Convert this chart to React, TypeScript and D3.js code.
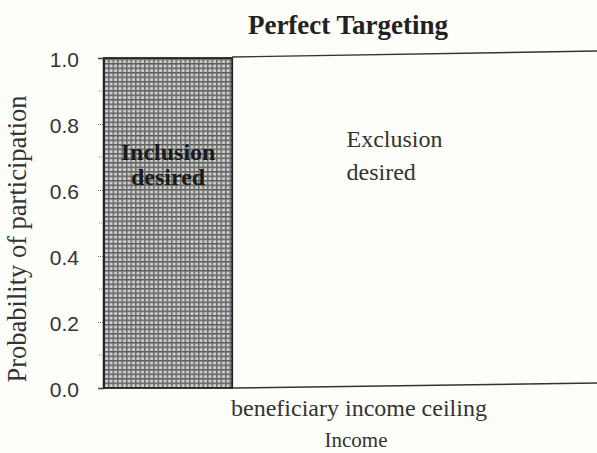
import { useRef, useEffect } from "react";
import * as d3 from "d3";

// step function: participation is 1 up to the ceiling, 0 beyond it
const incomeBreaks: number[] = [0.2, 26, 100];
const participation: number[] = [1, 0];
const majorTicks: number[] = [0, 0.2, 0.4, 0.6, 0.8, 1.0];
const minorTicks: number[] = [0.1, 0.3, 0.5, 0.7, 0.9];
const regionLabels: string[][] = [["Inclusion", "desired"], ["Exclusion", "desired"]];
const ceilingLabel = "beneficiary income ceiling";

export default function App() {
    const svgRef = useRef<SVGSVGElement | null>(null);

    useEffect(() => {
        if (!svgRef.current) return;
        const width = 597;
        const height = 453;
        const margin = { top: 58, right: 0, bottom: 65, left: 103 };

        const svg = d3.select(svgRef.current);
        svg.selectAll("*").remove();

        const xScale = d3.scaleLinear().domain([0, 100]).range([margin.left, width - margin.right + 3]);
        const yScale = d3.scaleLinear().domain([0, 1]).range([height - margin.bottom, margin.top]);

        svg.append("rect").attr("width", width).attr("height", height).attr("fill", "#fdfdf9");

        // crosshatch pattern for the inclusion bar
        const defs = svg.append("defs");
        const pat = defs.append("pattern")
            .attr("id", "hatch")
            .attr("patternUnits", "userSpaceOnUse")
            .attr("width", 4.5)
            .attr("height", 4.5);
        pat.append("rect").attr("width", 4.5).attr("height", 4.5).attr("fill", "#cfcfcd");
        pat.append("rect").attr("width", 4.5).attr("height", 1.5).attr("fill", "#5a5a5a");
        pat.append("rect").attr("width", 1.5).attr("height", 4.5).attr("fill", "#6a6a6a");

        const serif = "'Liberation Serif', 'DejaVu Serif', serif";

        // title
        svg.append("text")
            .attr("x", 348).attr("y", 34)
            .attr("text-anchor", "middle")
            .attr("font-family", serif)
            .attr("font-weight", "bold")
            .attr("font-size", 27)
            .attr("fill", "#222")
            .text("Perfect Targeting");

        // bars of the step function
        const segs = participation.map((p, i) => ({ x0: incomeBreaks[i], x1: incomeBreaks[i + 1], p }));
        svg.append("g")
            .selectAll("rect")
            .data(segs.filter(d => d.p > 0))
            .join("rect")
            .attr("x", d => xScale(d.x0))
            .attr("y", d => yScale(d.p))
            .attr("width", d => xScale(d.x1) - xScale(d.x0))
            .attr("height", d => yScale(0) - yScale(d.p))
            .attr("fill", "url(#hatch)")
            .attr("stroke", "#222")
            .attr("stroke-width", 1.8);

        // frame: top line and baseline beyond the ceiling (slightly skewed like the scan)
        const ceiling = incomeBreaks[1];
        svg.append("line")
            .attr("x1", xScale(ceiling)).attr("x2", xScale(100))
            .attr("y1", yScale(1) - 1).attr("y2", yScale(1) - 7)
            .attr("stroke", "#333").attr("stroke-width", 1.4);
        svg.append("line")
            .attr("x1", xScale(ceiling)).attr("x2", xScale(100))
            .attr("y1", yScale(0)).attr("y2", yScale(0) - 5)
            .attr("stroke", "#333").attr("stroke-width", 1.6);

        // left axis
        const yAxis = d3.axisLeft(yScale)
            .tickValues(majorTicks)
            .tickSize(5)
            .tickPadding(19)
            .tickFormat(d3.format(".1f"));
        const gy = svg.append("g")
            .attr("transform", `translate(${margin.left},0)`)
            .call(yAxis);
        gy.select(".domain").attr("stroke", "#222").attr("stroke-width", 1.5);
        gy.selectAll(".tick line").attr("stroke", "#666").attr("stroke-dasharray", "1,1");
        gy.selectAll(".tick text")
            .attr("font-family", "'Liberation Sans', Arial, sans-serif")
            .attr("font-size", 21)
            .attr("dy", "0.42em")
            .attr("fill", "#333");

        svg.append("g")
            .selectAll("line")
            .data(minorTicks)
            .join("line")
            .attr("x1", margin.left - 4).attr("x2", margin.left)
            .attr("y1", d => yScale(d)).attr("y2", d => yScale(d))
            .attr("stroke", "#888").attr("stroke-dasharray", "1,1");

        // y axis label
        svg.append("text")
            .attr("transform", `translate(26,239) rotate(-90)`)
            .attr("text-anchor", "middle")
            .attr("font-family", serif)
            .attr("font-size", 26.5)
            .attr("fill", "#333")
            .text("Probability of participation");

        // inclusion label
        const incX = (xScale(incomeBreaks[0]) + xScale(ceiling)) / 2;
        svg.append("g")
            .selectAll("text")
            .data(regionLabels[0])
            .join("text")
            .attr("x", incX)
            .attr("y", (d, i) => yScale(0.692) + i * 25)
            .attr("text-anchor", "middle")
            .attr("font-family", serif)
            .attr("font-weight", "bold")
            .attr("font-size", 24)
            .attr("fill", "#1a1a1a")
            .text(d => d);

        // exclusion label
        svg.append("g")
            .selectAll("text")
            .data(regionLabels[1])
            .join("text")
            .attr("x", xScale(49))
            .attr("y", (d, i) => yScale(0.73) + i * 33)
            .attr("font-family", serif)
            .attr("font-size", 24)
            .attr("fill", "#333")
            .text(d => d);

        // x labels
        svg.append("text")
            .attr("x", 359).attr("y", 416)
            .attr("text-anchor", "middle")
            .attr("font-family", serif)
            .attr("font-size", 24)
            .attr("fill", "#333")
            .text(ceilingLabel);
        svg.append("text")
            .attr("x", 356).attr("y", 447)
            .attr("text-anchor", "middle")
            .attr("font-family", serif)
            .attr("font-size", 21)
            .attr("fill", "#333")
            .text("Income");
    }, []);

    return (
        <svg ref={svgRef} width={597} height={453}
            style={{ position: "absolute", left: 0, top: 0, display: "block" }} />
    );
}
